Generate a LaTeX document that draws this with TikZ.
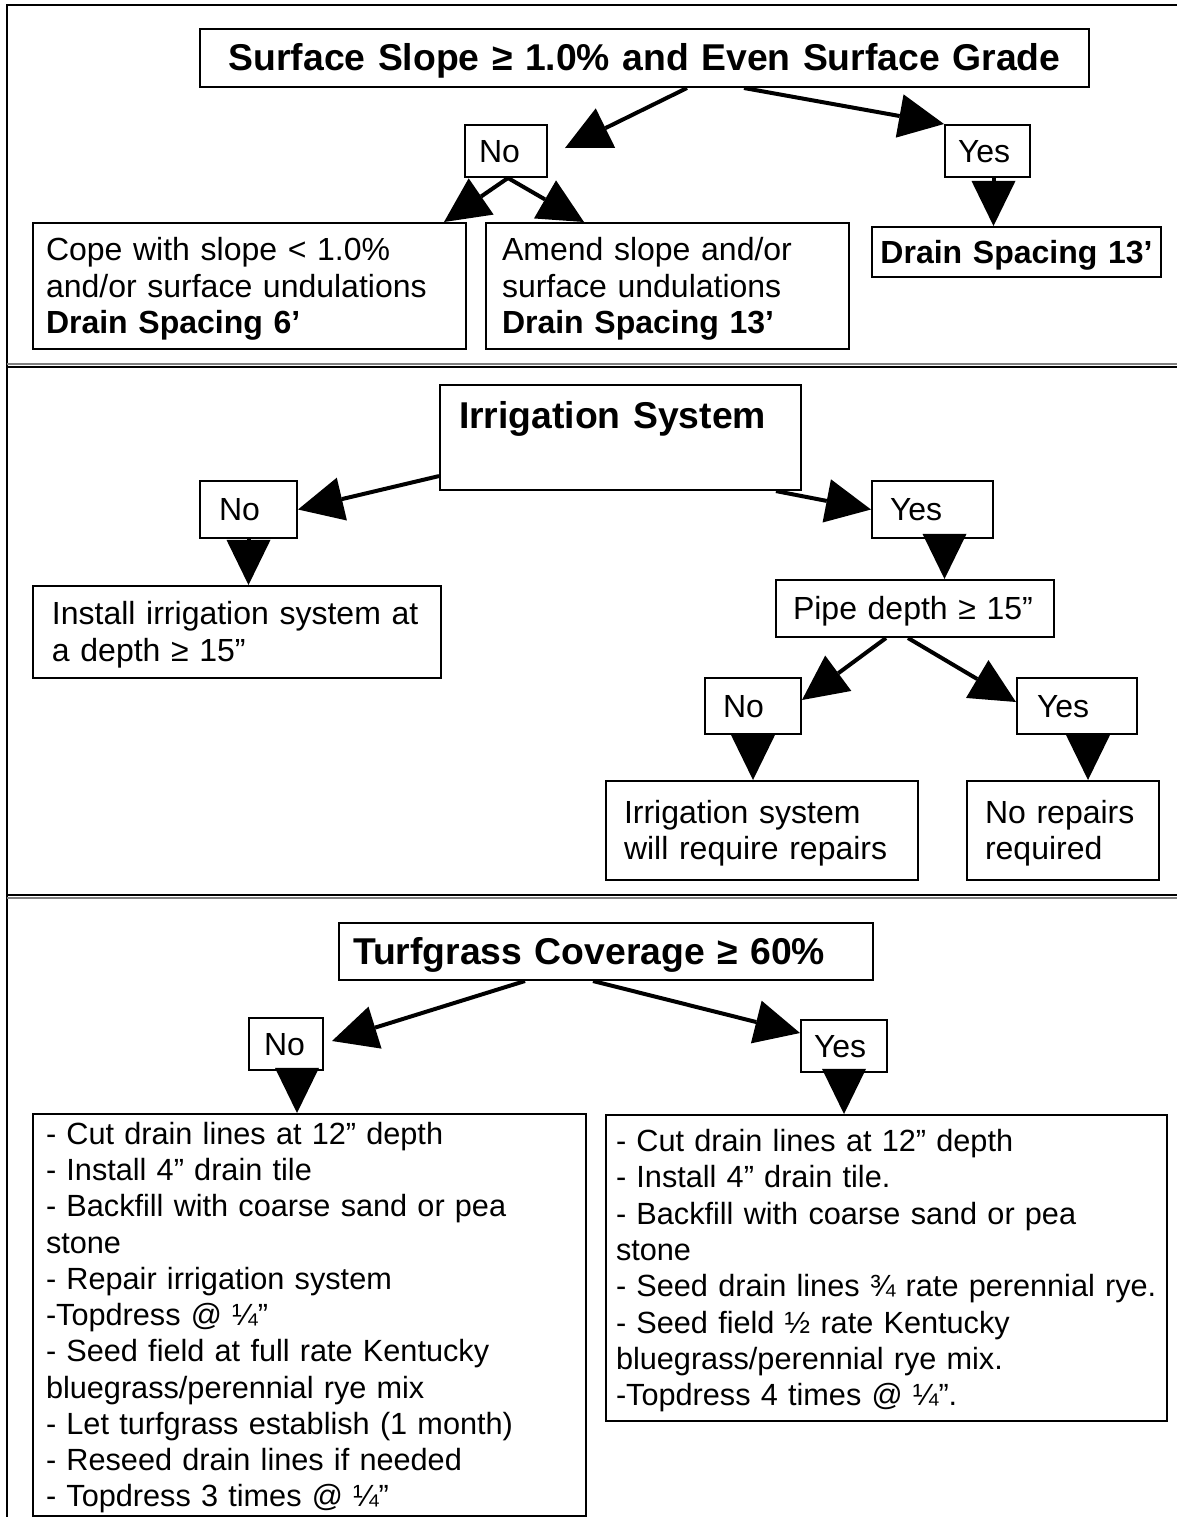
\documentclass[tikz,border=0pt]{standalone}
\usepackage{fontspec}
\setmainfont{Liberation Sans}
\usepackage{tikz}
\usetikzlibrary{arrows.meta,calc}

\newcommand{\pxu}{0.375pt}
\newcommand{\wstrut}{\rule[-0.212em]{0pt}{1.117em}}
\newcommand{\bodyfont}{\fontsize{12pt}{13.8pt}\selectfont}
\newcommand{\listfont}{\fontsize{11.5pt}{13.6pt}\selectfont}
\newcommand{\headfont}{\fontsize{14pt}{16.1pt}\selectfont\bfseries}

\begin{document}
\begin{tikzpicture}[
  x=\pxu, y=-\pxu,
  box/.style={draw, line width=0.75pt, anchor=north west, inner ysep=0pt, align=left, font=\bodyfont,
    execute at begin node=\wstrut, execute at end node=\wstrut},
  sz/.style n args={3}{minimum width=#1*\pxu, minimum height=#2*\pxu, inner xsep=#3*\pxu, text width=(#1-2*#3)*\pxu},
  head/.style={box, font=\headfont},
  ar/.style={line width=1.5pt, -{Triangle[length=16.9pt, width=16.5pt, line width=0pt]}},
  rule/.style={line width=0.75pt}]

  \useasboundingbox (0,0) rectangle (1177,1517);

  % frame and panel separators
  \draw[rule] (7,1517) -- (7,5) -- (1177,5);
  \draw[line width=0.4pt, gray] (7,364) -- (1177,364);
  \draw[rule] (7,367) -- (1177,367);
  \draw[rule] (7,895) -- (1177,895);
  \draw[line width=0.4pt, gray] (7,898) -- (1177,898);

  % slope
  \node[head, sz={889}{58}{14}, align=center] (slope) at (199,28) {Surface Slope ≥ 1.0\% and Even Surface Grade};
  \node[box, sz={82}{52}{14}] (slopeno) at (464,124) {No};
  \node[box, sz={85}{52}{13}] (slopeyes) at (944,124) {Yes};
  \node[box, sz={433}{126}{13}] (cope) at (32,222) {Cope with slope < 1.0\%\\and/or surface undulations\\\textbf{Drain Spacing 6’}};
  \node[box, sz={363}{126}{16}] (amend) at (485,222) {Amend slope and/or\\surface undulations\\\textbf{Drain Spacing 13’}};
  \node[box, sz={289}{50}{8}, align=center, font=\bodyfont\bfseries] (spacing) at (871,226) {Drain Spacing 13’};

  \draw[ar] ($(slope.south west)+(488,0)$) -- ($(slopeno.east)+(17,-3)$);
  \draw[ar] ($(slope.south west)+(545,0)$) -- (slopeyes.north west);
  \draw[ar] ($(slopeno.south west)+(44,0)$) -- ($(cope.north east)+(-23,0)$);
  \draw[ar] ($(slopeno.south west)+(44,0)$) -- ($(amend.north west)+(99,0)$);
  \draw[ar] ($(slopeyes.south)+(6,0)$) -- ($(slopeyes.south |- spacing.north)+(6,0)$);

  % irrigation
  \node[head, sz={361}{105}{19}, text height=16.3pt, text depth=23.1pt] (irrig) at (439,384) {Irrigation System};
  \node[box, sz={97}{57}{19}] (irrno) at (199,480) {No};
  \node[box, sz={121}{57}{18}] (irryes) at (871,480) {Yes};
  \node[box, sz={408}{92}{19}] (install) at (32,585) {Install irrigation system at\\a depth ≥ 15”};
  \node[box, sz={278}{57}{17}] (pipe) at (775,579) {Pipe depth ≥ 15”};
  \node[box, sz={96}{56}{18}] (pipeno) at (704,677) {No};
  \node[box, sz={120}{56}{20}] (pipeyes) at (1016,677) {Yes};
  \node[box, sz={312}{99}{18}] (repairs) at (605,780) {Irrigation system\\will require repairs};
  \node[box, sz={192}{99}{18}] (norepairs) at (966,780) {No repairs\\required};

  \draw[ar] ($(irrig.south west)+(0,-15)$) -- (irrno.east);
  \draw[ar] ($(irrig.south east)+(-26,0)$) -- (irryes.west);
  \draw[ar] (irrno.south) -- (irrno.south |- install.north);
  \draw[ar] ($(irryes.south)+(12,0)$) -- ($(irryes.south |- pipe.north)+(12,0)$);
  \draw[ar] ($(pipe.south west)+(111,0)$) -- ($(pipeno.north east)+(0,23)$);
  \draw[ar] ($(pipe.south west)+(133,0)$) -- ($(pipeyes.north west)+(0,25)$);
  \draw[ar] (pipeno.south) -- (pipeno.south |- repairs.north);
  \draw[ar] ($(pipeyes.south)+(11,0)$) -- ($(pipeyes.south |- norepairs.north)+(11,0)$);

  % turfgrass
  \node[head, sz={534}{57}{14}] (turf) at (338,922) {Turfgrass Coverage ≥ 60\%};
  \node[box, sz={74}{52}{15}] (turfno) at (248,1017) {No};
  \node[box, sz={86}{52}{13}] (turfyes) at (800,1019) {Yes};
  \node[box, sz={553}{402}{13}, font=\listfont] (nolist) at (32,1113) {%
    - Cut drain lines at 12” depth\\
    - Install 4” drain tile\\
    - Backfill with coarse sand or pea\\
    stone\\
    - Repair irrigation system\\
    -Topdress @ ¼”\\
    - Seed field at full rate Kentucky\\
    bluegrass/perennial rye mix\\
    - Let turfgrass establish (1 month)\\
    - Reseed drain lines if needed\\
    - Topdress 3 times @ ¼”};
  \node[box, sz={561}{306}{10}, font=\listfont] (yeslist) at (605,1114) {%
    - Cut drain lines at 12” depth\\
    - Install 4” drain tile.\\
    - Backfill with coarse sand or pea\\
    stone\\
    - Seed drain lines ¾ rate perennial rye.\\
    - Seed field ½ rate Kentucky\\
    bluegrass/perennial rye mix.\\
    -Topdress 4 times @ ¼”.};

  \draw[ar] ($(turf.south west)+(187,0)$) -- ($(turfno.east)+(8,-3)$);
  \draw[ar] ($(turf.south west)+(255,0)$) -- ($(turfyes.west)+(0,-13)$);
  \draw[ar] ($(turfno.south)+(11,0)$) -- ($(turfno.south |- nolist.north)+(11,0)$);
  \draw[ar] (turfyes.south) -- (turfyes.south |- yeslist.north);
\end{tikzpicture}
\end{document}
